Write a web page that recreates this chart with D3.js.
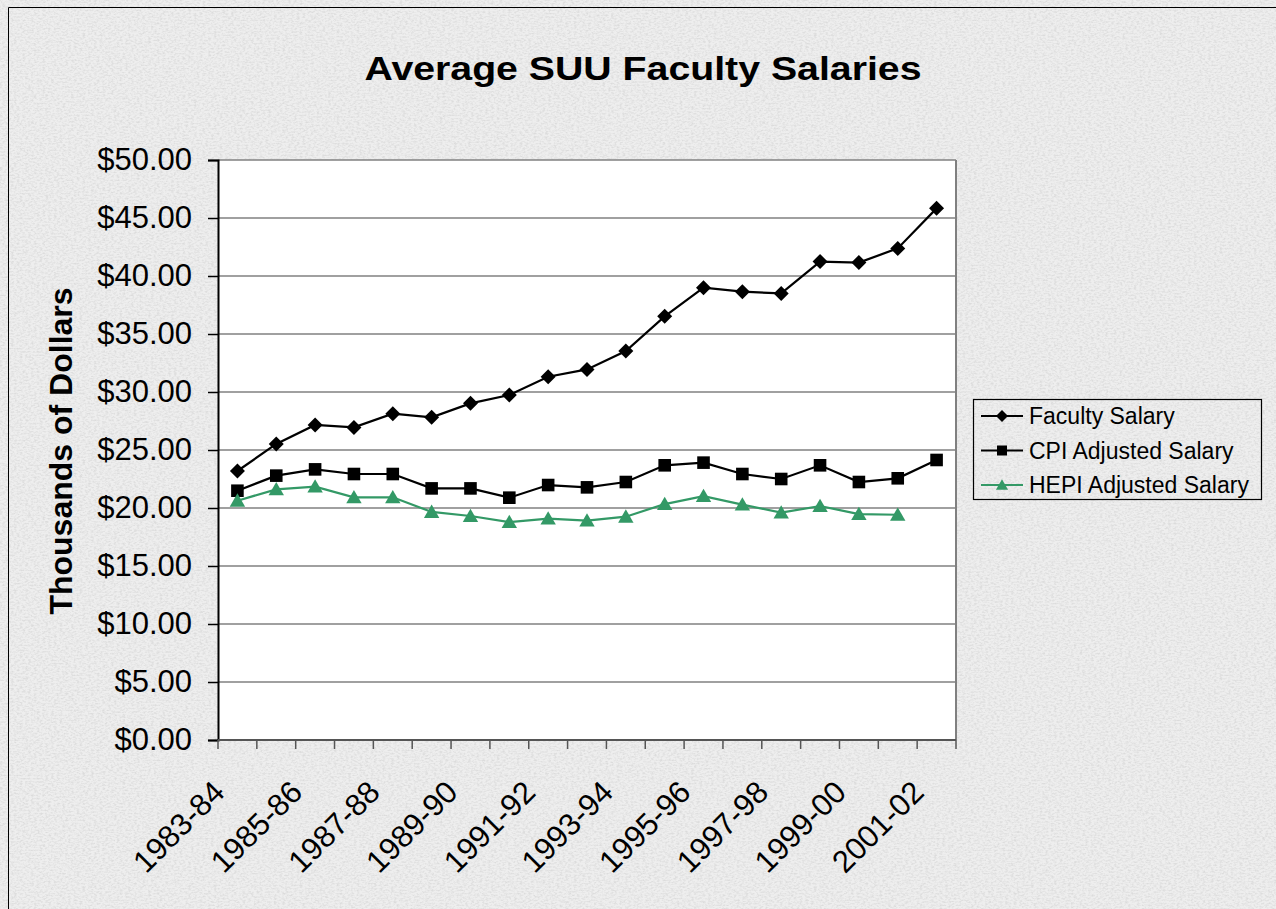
<!DOCTYPE html>
<html>
<head>
<meta charset="utf-8">
<script src="https://cdn.jsdelivr.net/npm/d3@7"></script>
<style>
  html, body { margin: 0; padding: 0; background: #ececec; }
  svg { display: block; font-family: "Liberation Sans", Arial, sans-serif; }
</style>
</head>
<body>
<svg id="chart" width="1276" height="909"></svg>
<script>
const categories = ["1983-84","1984-85","1985-86","1986-87","1987-88","1988-89","1989-90","1990-91",
  "1991-92","1992-93","1993-94","1994-95","1995-96","1996-97","1997-98","1998-99","1999-00","2000-01","2001-02"];
const tickLabels = ["1983-84","1985-86","1987-88","1989-90","1991-92","1993-94","1995-96","1997-98","1999-00","2001-02"];
const facultySalary = [23.19,25.52,27.16,26.95,28.13,27.82,29.02,29.74,31.32,31.95,33.53,36.52,38.99,38.65,38.50,41.24,41.16,42.38,45.83];
const cpiAdjusted   = [21.49,22.79,23.33,22.93,22.93,21.69,21.69,20.89,21.98,21.78,22.24,23.68,23.91,22.93,22.50,23.68,22.24,22.56,24.14];
const hepiAdjusted  = [20.63,21.61,21.84,20.92,20.92,19.66,19.31,18.79,19.08,18.91,19.25,20.34,21.03,20.29,19.60,20.17,19.48,19.42,null];
const yTicks = [0,5,10,15,20,25,30,35,40,45,50];
const seriesNames = ["Faculty Salary","CPI Adjusted Salary","HEPI Adjusted Salary"];

const svg = d3.select("#chart");
const W = 1276, H = 909;
const plot = {left: 218, top: 160, right: 956, bottom: 740};

// textured background (paper-like)
const defs = svg.append("defs");
const f = defs.append("filter").attr("id","paper").attr("x",0).attr("y",0).attr("width","100%").attr("height","100%");
f.append("feTurbulence").attr("type","fractalNoise").attr("baseFrequency","0.35 0.6").attr("numOctaves",3).attr("seed",7).attr("result","n");
f.append("feColorMatrix").attr("in","n").attr("type","matrix")
  .attr("values","0 0 0 0 0.62  0 0 0 0 0.62  0 0 0 0 0.62  0 0 0 -2.4 1.45");
svg.append("rect").attr("x",0).attr("y",0).attr("width",W).attr("height",H).attr("fill","#eeeeee");
svg.append("rect").attr("x",0).attr("y",0).attr("width",W).attr("height",H).attr("filter","url(#paper)").attr("opacity",0.55);

// outer border
svg.append("path").attr("d",`M8.5,${H} V7.5 H${W}`).attr("fill","none").attr("stroke","#000").attr("stroke-width",1);

const x = d3.scaleBand().domain(categories).range([plot.left, plot.right]).padding(0);
const y = d3.scaleLinear().domain([0,50]).range([plot.bottom, plot.top]);

// plot area
svg.append("rect").attr("x",plot.left).attr("y",plot.top).attr("width",plot.right-plot.left).attr("height",plot.bottom-plot.top)
  .attr("fill","#fff");

// gridlines
svg.append("g").selectAll("line").data(yTicks.filter(d=>d>0)).join("line")
  .attr("x1",plot.left).attr("x2",plot.right).attr("y1",d=>y(d)).attr("y2",d=>y(d))
  .attr("stroke","#808080").attr("stroke-width",1.6);
// right border
svg.append("line").attr("x1",plot.right).attr("x2",plot.right).attr("y1",plot.top).attr("y2",plot.bottom)
  .attr("stroke","#808080").attr("stroke-width",2);

// y axis
const yAxis = d3.axisLeft(y).tickValues(yTicks).tickSize(10).tickPadding(16).tickFormat(d=>"$"+d3.format(".2f")(d));
const gy = svg.append("g").attr("transform",`translate(${plot.left},0)`).call(yAxis);
gy.select(".domain").attr("stroke","#000").attr("stroke-width",2);
gy.selectAll(".tick line").attr("stroke","#000").attr("stroke-width",1.5);
gy.selectAll(".tick text").attr("font-size",31).attr("fill","#000").attr("font-family","Liberation Sans, Arial, sans-serif");

// x axis
const gx = svg.append("g").attr("transform",`translate(0,${plot.bottom})`);
const boundaries = d3.range(categories.length+1).map(i => plot.left + i*x.step());
gx.selectAll("line.tk").data(boundaries).join("line").attr("class","tk")
  .attr("x1",d=>d).attr("x2",d=>d).attr("y1",0).attr("y2",9).attr("stroke","#555").attr("stroke-width",1.5);
gx.append("line").attr("x1",plot.left).attr("x2",plot.right).attr("y1",0).attr("y2",0)
  .attr("stroke","#555").attr("stroke-width",2);
gx.selectAll("text").data(tickLabels).join("text")
  .attr("transform",d=>`translate(${x(d)+x.bandwidth()/2-11},54) rotate(-45)`)
  .attr("text-anchor","end").attr("font-size",31).attr("fill","#000").text(d=>d);

// titles
svg.append("text").attr("x",643).attr("y",80).attr("text-anchor","middle")
  .attr("font-size",34).attr("font-weight","bold").attr("textLength",557).attr("lengthAdjust","spacingAndGlyphs")
  .text("Average SUU Faculty Salaries");
svg.append("text").attr("transform","translate(72,451) rotate(-90)").attr("text-anchor","middle")
  .attr("font-size",32).attr("font-weight","bold").text("Thousands of Dollars");

// markers
function diamond(s){ return `M0,${-s}L${s},0L0,${s}L${-s},0Z`; }
function square(s){ return `M${-s},${-s}H${s}V${s}H${-s}Z`; }
function triangle(s){ return `M0,${-s*1.05}L${s*1.1},${s*0.85}H${-s*1.1}Z`; }

const series = [
  {name: seriesNames[0], values: facultySalary, color: "#000", marker: diamond, ms: 7.5, lms: 6},
  {name: seriesNames[1], values: cpiAdjusted, color: "#000", marker: square, ms: 6.3, lms: 5},
  {name: seriesNames[2], values: hepiAdjusted, color: "#339966", marker: triangle, ms: 7, lms: 5.5}
];
const cx = d => x(d) + x.bandwidth()/2;
const line = d3.line().defined(d=>d.v!=null).x(d=>cx(d.c)).y(d=>y(d.v));

series.forEach(s => {
  const pts = categories.map((c,i)=>({c, v: s.values[i]}));
  svg.append("path").datum(pts).attr("d",line).attr("fill","none").attr("stroke",s.color).attr("stroke-width",2.2);
  svg.append("g").selectAll("path").data(pts.filter(d=>d.v!=null)).join("path")
    .attr("transform",d=>`translate(${cx(d.c)},${y(d.v)})`).attr("d",s.marker(s.ms)).attr("fill",s.color);
});

// legend
const lg = svg.append("g");
lg.append("rect").attr("x",973.5).attr("y",399.5).attr("width",288).attr("height",100).attr("fill","none").attr("stroke","#000").attr("stroke-width",1.2);
series.forEach((s,i) => {
  const yy = 416 + i*34.5;
  lg.append("line").attr("x1",981).attr("x2",1023).attr("y1",yy).attr("y2",yy).attr("stroke",s.color).attr("stroke-width",2);
  lg.append("path").attr("transform",`translate(1002,${yy})`).attr("d",s.marker(s.lms)).attr("fill",s.color);
  lg.append("text").attr("x",1029).attr("y",yy+8).attr("font-size",23).attr("fill","#000").text(s.name);
});
</script>
</body>
</html>
